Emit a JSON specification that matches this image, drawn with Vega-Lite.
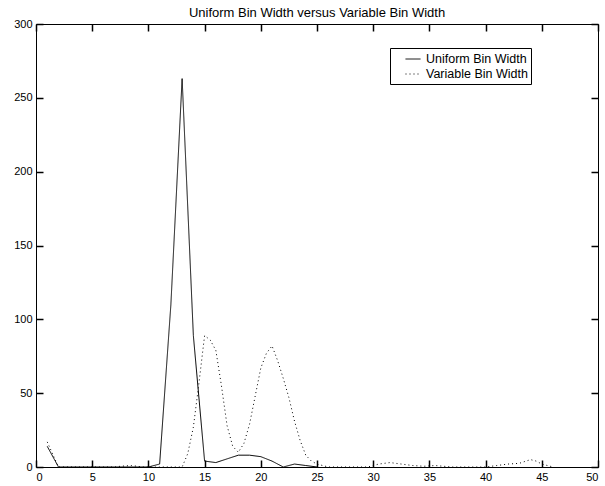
{
  "$schema": "https://vega.github.io/schema/vega-lite/v6.json",
  "width": 562,
  "height": 443,
  "autosize": {"type": "none"},
  "padding": {"left": 36, "top": 24, "right": 7, "bottom": 19},
  "background": "white",
  "config": {
    "font": "Liberation Sans",
    "view": {"stroke": "black", "strokeWidth": 1},
    "axis": {"grid": false, "domain": false, "ticks": true, "tickColor": "#000000", "tickWidth": 1.5, "tickSize": 7, "offset": -7, "zindex": 1, "labelColor": "black", "labelFontSize": 11, "labelFont": "Liberation Sans", "titleFontSize": 11}
  },
  "title": {"text": "Uniform Bin Width versus Variable Bin Width", "fontSize": 13, "fontWeight": "normal", "font": "Liberation Sans", "color": "black", "anchor": "middle", "offset": -2},
  "data": {"values": [
    {"series": "Uniform Bin Width", "x": 1, "y": 14},
    {"series": "Uniform Bin Width", "x": 2, "y": 0},
    {"series": "Uniform Bin Width", "x": 3, "y": 0},
    {"series": "Uniform Bin Width", "x": 4, "y": 0},
    {"series": "Uniform Bin Width", "x": 5, "y": 0},
    {"series": "Uniform Bin Width", "x": 6, "y": 0},
    {"series": "Uniform Bin Width", "x": 7, "y": 0},
    {"series": "Uniform Bin Width", "x": 8, "y": 0},
    {"series": "Uniform Bin Width", "x": 9, "y": 0},
    {"series": "Uniform Bin Width", "x": 10, "y": 0},
    {"series": "Uniform Bin Width", "x": 11, "y": 2},
    {"series": "Uniform Bin Width", "x": 12, "y": 110},
    {"series": "Uniform Bin Width", "x": 13, "y": 263},
    {"series": "Uniform Bin Width", "x": 14, "y": 89},
    {"series": "Uniform Bin Width", "x": 15, "y": 4},
    {"series": "Uniform Bin Width", "x": 16, "y": 3},
    {"series": "Uniform Bin Width", "x": 17, "y": 5.5},
    {"series": "Uniform Bin Width", "x": 18, "y": 8},
    {"series": "Uniform Bin Width", "x": 19, "y": 8},
    {"series": "Uniform Bin Width", "x": 20, "y": 7},
    {"series": "Uniform Bin Width", "x": 21, "y": 4},
    {"series": "Uniform Bin Width", "x": 22, "y": 0},
    {"series": "Uniform Bin Width", "x": 23, "y": 2},
    {"series": "Uniform Bin Width", "x": 24, "y": 1},
    {"series": "Uniform Bin Width", "x": 25, "y": 0},
    {"series": "Variable Bin Width", "x": 1, "y": 17},
    {"series": "Variable Bin Width", "x": 2, "y": 0},
    {"series": "Variable Bin Width", "x": 7, "y": 0},
    {"series": "Variable Bin Width", "x": 7.5, "y": 0.5},
    {"series": "Variable Bin Width", "x": 8.5, "y": 1},
    {"series": "Variable Bin Width", "x": 9.5, "y": 0},
    {"series": "Variable Bin Width", "x": 13, "y": 0},
    {"series": "Variable Bin Width", "x": 13.5, "y": 9},
    {"series": "Variable Bin Width", "x": 14, "y": 27},
    {"series": "Variable Bin Width", "x": 14.5, "y": 57},
    {"series": "Variable Bin Width", "x": 15, "y": 89},
    {"series": "Variable Bin Width", "x": 15.5, "y": 86},
    {"series": "Variable Bin Width", "x": 16, "y": 79},
    {"series": "Variable Bin Width", "x": 16.5, "y": 55},
    {"series": "Variable Bin Width", "x": 17, "y": 28},
    {"series": "Variable Bin Width", "x": 17.5, "y": 14},
    {"series": "Variable Bin Width", "x": 18, "y": 10},
    {"series": "Variable Bin Width", "x": 18.5, "y": 16},
    {"series": "Variable Bin Width", "x": 19, "y": 29},
    {"series": "Variable Bin Width", "x": 19.5, "y": 48},
    {"series": "Variable Bin Width", "x": 20, "y": 67},
    {"series": "Variable Bin Width", "x": 20.5, "y": 77},
    {"series": "Variable Bin Width", "x": 21, "y": 82},
    {"series": "Variable Bin Width", "x": 21.5, "y": 72},
    {"series": "Variable Bin Width", "x": 22, "y": 60},
    {"series": "Variable Bin Width", "x": 22.5, "y": 47},
    {"series": "Variable Bin Width", "x": 23, "y": 31},
    {"series": "Variable Bin Width", "x": 23.5, "y": 18},
    {"series": "Variable Bin Width", "x": 24, "y": 8},
    {"series": "Variable Bin Width", "x": 24.5, "y": 4},
    {"series": "Variable Bin Width", "x": 25, "y": 2},
    {"series": "Variable Bin Width", "x": 26, "y": 0},
    {"series": "Variable Bin Width", "x": 29.5, "y": 0},
    {"series": "Variable Bin Width", "x": 30.5, "y": 2},
    {"series": "Variable Bin Width", "x": 31.5, "y": 3},
    {"series": "Variable Bin Width", "x": 32.5, "y": 2},
    {"series": "Variable Bin Width", "x": 33.5, "y": 1},
    {"series": "Variable Bin Width", "x": 34.5, "y": 0.5},
    {"series": "Variable Bin Width", "x": 35.5, "y": 1},
    {"series": "Variable Bin Width", "x": 37, "y": 0},
    {"series": "Variable Bin Width", "x": 40, "y": 0},
    {"series": "Variable Bin Width", "x": 41, "y": 1},
    {"series": "Variable Bin Width", "x": 42, "y": 2},
    {"series": "Variable Bin Width", "x": 43, "y": 2.5},
    {"series": "Variable Bin Width", "x": 44, "y": 5},
    {"series": "Variable Bin Width", "x": 44.5, "y": 4},
    {"series": "Variable Bin Width", "x": 45, "y": 2},
    {"series": "Variable Bin Width", "x": 46, "y": 0}
  ]},
  "layer": [
    {
      "mark": {"type": "line", "color": "black", "strokeWidth": 1, "clip": true},
      "encoding": {
        "x": {"field": "x", "type": "quantitative", "scale": {"domain": [0, 50], "nice": false, "zero": false},
              "axis": {"orient": "bottom", "title": null, "values": [0,5,10,15,20,25,30,35,40,45,50], "labelPadding": 4}},
        "y": {"field": "y", "type": "quantitative", "scale": {"domain": [0, 300], "nice": false},
              "axis": {"orient": "left", "title": null, "values": [0,50,100,150,200,250,300], "labelPadding": 4}},
        "strokeDash": {"field": "series", "type": "nominal",
          "scale": {"domain": ["Uniform Bin Width", "Variable Bin Width"], "range": [[1, 0], [1, 3]]},
          "legend": {"title": null, "orient": "none", "legendX": 354, "legendY": 24, "strokeColor": "black", "fillColor": "white", "padding": 3, "symbolType": "stroke", "symbolSize": 225, "symbolOffset": 12, "symbolStrokeWidth": 1, "symbolStrokeColor": "black", "labelFontSize": 12.5, "labelFont": "Liberation Sans", "labelColor": "black", "rowPadding": -1, "labelOffset": 5}
        }
      }
    },
    {
      "mark": {"type": "line", "opacity": 0},
      "encoding": {
        "x": {"field": "x", "type": "quantitative",
              "axis": {"orient": "top", "title": null, "labels": false, "values": [0,5,10,15,20,25,30,35,40,45,50]}},
        "y": {"field": "y", "type": "quantitative",
              "axis": {"orient": "right", "title": null, "labels": false, "values": [0,50,100,150,200,250,300]}},
        "detail": {"field": "series"}
      }
    }
  ],
  "resolve": {"axis": {"x": "independent", "y": "independent"}}
}
